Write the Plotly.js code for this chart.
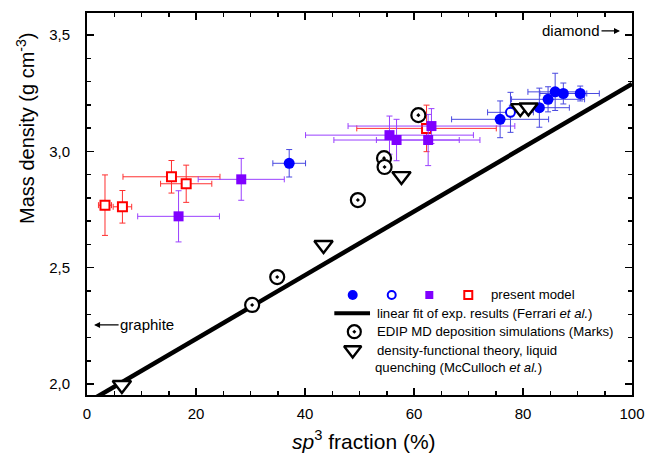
<!DOCTYPE html>
<html>
<head>
<meta charset="utf-8">
<script src="https://cdn.plot.ly/plotly-3.0.1.min.js"></script>
<style>html,body{margin:0;padding:0;background:#fff;}#chart{width:657px;height:460px;}</style>
</head>
<body>
<div id="chart"></div>
<script>
// ---- data ----
var blueFilledX  = [37.1, 75.8, 83.0, 84.6, 85.9, 87.4, 90.5];
var blueFilledY  = [2.949, 3.138, 3.188, 3.224, 3.256, 3.249, 3.249];
var blueFilledEX = [3.0, 8.9, 5.5, 6.7, 5.0, 4.3, 3.5];
var blueFilledEY = [0.059, 0.079, 0.084, 0.054, 0.080, 0.045, 0.032];

var blueOpenX  = [77.7];
var blueOpenY  = [3.168];
var blueOpenEX = [4.2];
var blueOpenEY = [0.086];

var purpleX  = [16.8, 28.3, 55.5, 56.8, 62.6, 63.2];
var purpleY  = [2.721, 2.880, 3.070, 3.049, 3.049, 3.109];
var purpleEX = [7.5, 7.9, 15.4, 11.5, 9.5, 15.3];
var purpleEY = [0.11, 0.09, 0.082, 0.089, 0.11, 0.075];

var redX  = [3.3, 6.5, 15.5, 18.2, 62.3];
var redY  = [2.769, 2.762, 2.891, 2.861, 3.099];
var redEX = [1.2, 1.7, 8.9, 4.7, 12.8];
var redEY = [0.13, 0.07, 0.07, 0.08, 0.10];

var fitX = [0, 100];
var fitY = [1.92, 3.29];   // Ferrari linear fit: 1.92 + 1.37*f

var edipX = [30.3, 34.9, 49.7, 54.5, 54.6, 60.8];
var edipY = [2.340, 2.460, 2.791, 2.971, 2.933, 3.156];

var dftX = [6.4, 43.4, 57.7, 79.5, 81.0];
var dftY = [1.996, 2.598, 2.894, 3.186, 3.189];

var xTickVals = [0, 20, 40, 60, 80, 100];
var yTickVals = [2.0, 2.5, 3.0, 3.5];
var yTickText = ["2,0", "2,5", "3,0", "3,5"];

var legendLabels = ["present model",
  "linear fit of exp. results (Ferrari <i>et al.</i>)",
  "EDIP MD deposition simulations (Marks)",
  "density-functional theory, liquid",
  "quenching (McCulloch <i>et al.</i>)"];

// ---- styles ----
var FONT = "Liberation Sans, Arial, Helvetica, sans-serif";
var BLUE = "#0000ff", PURPLE = "#7f00ff", RED = "#ff0000";

function errs(arr, col) {
  return {type: "data", array: arr, visible: true, color: col, thickness: 1, width: 3};
}

var traces = [
  {x: fitX, y: fitY, mode: "lines", line: {color: "black", width: 4.5}, hoverinfo: "skip"},
  {x: redX, y: redY, mode: "markers", type: "scatter",
   marker: {symbol: "square", size: 9, color: "white", line: {color: RED, width: 2}},
   error_x: errs(redEX, "#ff3030"), error_y: errs(redEY, "#ff3030")},
  {x: purpleX, y: purpleY, mode: "markers",
   marker: {symbol: "square", size: 10, color: PURPLE, line: {width: 0}},
   error_x: errs(purpleEX, "#9a40ff"), error_y: errs(purpleEY, "#9a40ff")},
  {x: blueFilledX, y: blueFilledY, mode: "markers",
   marker: {symbol: "circle", size: 11, color: BLUE, line: {width: 0}},
   error_x: errs(blueFilledEX, "#4848e0"), error_y: errs(blueFilledEY, "#4848e0")},
  {x: blueOpenX, y: blueOpenY, mode: "markers",
   marker: {symbol: "circle", size: 9, color: "white", line: {color: BLUE, width: 2}},
   error_x: errs(blueOpenEX, "#4848e0"), error_y: errs(blueOpenEY, "#4848e0")},
  {x: edipX, y: edipY, mode: "markers",
   marker: {symbol: "circle-dot", size: 14, color: "white", line: {color: "black", width: 2.2}}},
  {x: dftX, y: dftY, mode: "markers",
   marker: {symbol: "triangle-down", size: 16, color: "white", line: {color: "black", width: 2.4}}},
  // ---- legend keys (on hidden overlay axes spanning the plot area 0..1) ----
  {x: [0.4875], y: [0.2618], xaxis: "x2", yaxis: "y2", mode: "markers",
   marker: {symbol: "circle", size: 10, color: BLUE}},
  {x: [0.5591], y: [0.2618], xaxis: "x2", yaxis: "y2", mode: "markers",
   marker: {symbol: "circle", size: 8, color: "white", line: {color: BLUE, width: 2}}},
  {x: [0.6281], y: [0.2618], xaxis: "x2", yaxis: "y2", mode: "markers",
   marker: {symbol: "square", size: 8, color: PURPLE}},
  {x: [0.6996], y: [0.2618], xaxis: "x2", yaxis: "y2", mode: "markers",
   marker: {symbol: "square", size: 8, color: "white", line: {color: RED, width: 2}}},
  {x: [0.4538, 0.5193], y: [0.2139, 0.2139], xaxis: "x2", yaxis: "y2", mode: "lines",
   line: {color: "black", width: 4}},
  {x: [0.4905], y: [0.1657], xaxis: "x2", yaxis: "y2", mode: "markers",
   marker: {symbol: "circle-dot", size: 13, color: "white", line: {color: "black", width: 2.2}}},
  {x: [0.4875], y: [0.1178], xaxis: "x2", yaxis: "y2", mode: "markers",
   marker: {symbol: "triangle-down", size: 15, color: "white", line: {color: "black", width: 2.4}}}
];

var legendTextX = [0.7382, 0.5284, 0.5284, 0.5284, 0.5242];
var legendTextY = [0.2618, 0.2139, 0.1657, 0.1178, 0.0715];

var annotations = legendLabels.map(function (t, i) {
  return {xref: "paper", yref: "paper", x: legendTextX[i], y: legendTextY[i],
          xanchor: "left", yanchor: "middle", text: t, showarrow: false,
          font: {family: FONT, size: 13.2, color: "black"}};
});
annotations.push(
  {xref: "x", yref: "y", x: 1.3, y: 2.254, text: "graphite", showarrow: true,
   ax: 53, ay: 0, arrowhead: 2, arrowsize: 1, arrowwidth: 1.2, arrowcolor: "black",
   standoff: 0, font: {family: FONT, size: 15, color: "black"}},
  {xref: "x", yref: "y", x: 97.8, y: 3.518, text: "diamond", showarrow: true,
   ax: -49, ay: 0, arrowhead: 2, arrowsize: 1, arrowwidth: 1.2, arrowcolor: "black",
   standoff: 0, font: {family: FONT, size: 15, color: "black"}},
  {xref: "paper", yref: "paper", x: -0.112, y: 0.699, textangle: -90,
   text: "Mass density (g cm<sup>-3</sup>)", showarrow: false,
   xanchor: "center", yanchor: "middle", font: {family: FONT, size: 20, color: "black"}},
  {xref: "paper", yref: "paper", x: 0.508, y: -0.118,
   text: "<i>sp</i><sup>3</sup> fraction (%)", showarrow: false,
   xanchor: "center", yanchor: "middle", font: {family: FONT, size: 21, color: "black"}}
);

var layout = {
  width: 657, height: 460,
  margin: {l: 87, r: 25, t: 13, b: 65},
  paper_bgcolor: "white", plot_bgcolor: "white",
  showlegend: false,
  separators: ",.",
  font: {family: FONT, size: 15, color: "black"},
  xaxis: {range: [0, 100], tickvals: xTickVals, ticks: "inside", ticklen: 7, tickwidth: 1.5,
          tickcolor: "black", showline: true, linewidth: 2, linecolor: "black", mirror: "ticks",
          showgrid: false, zeroline: false, ticklabelstandoff: 4,
          minor: {dtick: 5, tick0: 0, ticks: "inside", ticklen: 4, tickwidth: 1.5, tickcolor: "black", showgrid: false},
          tickfont: {family: FONT, size: 15, color: "black"}},
  yaxis: {range: [1.953, 3.595], tickvals: yTickVals, ticktext: yTickText, ticks: "inside",
          ticklen: 7, tickwidth: 1.5, tickcolor: "black", showline: true, linewidth: 2,
          linecolor: "black", mirror: "ticks", showgrid: false, zeroline: false, ticklabelstandoff: 12,
          minor: {dtick: 0.1, tick0: 2.0, ticks: "inside", ticklen: 4, tickwidth: 1.5, tickcolor: "black", showgrid: false},
          tickfont: {family: FONT, size: 15, color: "black"}},
  xaxis2: {overlaying: "x", range: [0, 1], visible: false, fixedrange: true},
  yaxis2: {overlaying: "y", range: [0, 1], visible: false, fixedrange: true},
  annotations: annotations
};

Plotly.newPlot("chart", traces, layout, {displayModeBar: false, staticPlot: true});
</script>
</body>
</html>
